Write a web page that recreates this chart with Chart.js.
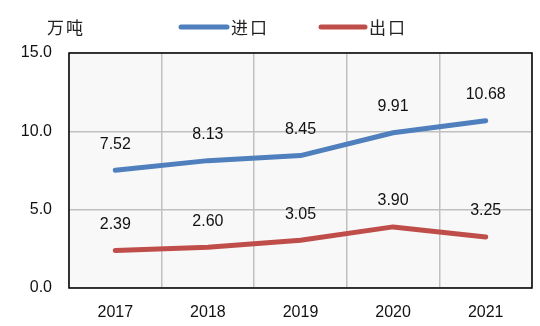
<!DOCTYPE html>
<html lang="zh">
  <head>
    <meta charset="UTF-8" />
    <title>进出口</title>
    <style>
      html, body { margin: 0; padding: 0; background: #fff; }
      .chartBox { width: 540px; height: 326px; position: relative; }
    </style>
  </head>
  <body>
    <div class="chartBox">
      <canvas id="myChart"></canvas>
    </div>
    <script src="https://cdn.jsdelivr.net/npm/chart.js"></script>
    <script>
      const years = ["2017", "2018", "2019", "2020", "2021"];
      const importVals = [7.52, 8.13, 8.45, 9.91, 10.68];
      const exportVals = [2.39, 2.6, 3.05, 3.9, 3.25];
      const yTicks = [0, 5, 10, 15];
      const unitLabel = "万吨";

      const numFont = "16px 'Liberation Sans', 'DejaVu Sans', sans-serif";
      const cjkFont = "17px 'Noto Sans CJK SC', sans-serif";

      // draws CJK text with a small gap between characters
      function spaced(ctx, text, x, y, gap) {
        for (const ch of text) {
          ctx.fillText(ch, x, y);
          x += ctx.measureText(ch).width + gap;
        }
      }

      // plot background, frame, legend, unit and value labels
      const decor = {
        id: "decor",
        beforeDraw(chart) {
          const { ctx, chartArea: a } = chart;
          ctx.save();
          ctx.fillStyle = "#f8f8f8";
          ctx.fillRect(a.left, a.top, a.right - a.left, a.bottom - a.top);
          ctx.restore();
        },
        afterDatasetsDraw(chart) {
          const { ctx, chartArea: a } = chart;
          ctx.save();
          ctx.strokeStyle = "#000";
          ctx.lineWidth = 1.5;
          ctx.strokeRect(a.left, a.top, a.right - a.left, a.bottom - a.top);

          // value labels
          ctx.fillStyle = "#111";
          ctx.font = numFont;
          ctx.textAlign = "center";
          ctx.textBaseline = "middle";
          chart.data.datasets.forEach((ds, i) => {
            chart.getDatasetMeta(i).data.forEach((pt, j) => {
              ctx.fillText(ds.data[j].toFixed(2), pt.x, pt.y - 26);
            });
          });

          // unit
          ctx.font = cjkFont;
          ctx.textAlign = "left";
          ctx.fillStyle = "#222";
          spaced(ctx, unitLabel, 47, 28, 2);

          // legend
          const items = [
            { x: 181, len: 46, ds: chart.data.datasets[0] },
            { x: 321, len: 44, ds: chart.data.datasets[1] },
          ];
          items.forEach((it) => {
            ctx.strokeStyle = it.ds.borderColor;
            ctx.lineWidth = 5;
            ctx.lineCap = "round";
            ctx.beginPath();
            ctx.moveTo(it.x, 27);
            ctx.lineTo(it.x + it.len, 27);
            ctx.stroke();
            ctx.fillStyle = "#222";
            spaced(ctx, it.ds.label, it.x + it.len + 4, 28, 2);
          });
          ctx.restore();
        },
      };

      const ctx = document.getElementById("myChart").getContext("2d");
      const myChart = new Chart(ctx, {
        type: "line",
        data: {
          labels: years,
          datasets: [
            {
              label: "进口",
              data: importVals,
              borderColor: "#4f7fbc",
              borderWidth: 5,
              pointRadius: 0,
              borderCapStyle: "round",
              borderJoinStyle: "round",
              tension: 0,
            },
            {
              label: "出口",
              data: exportVals,
              borderColor: "#bf4e4b",
              borderWidth: 5,
              pointRadius: 0,
              borderCapStyle: "round",
              borderJoinStyle: "round",
              tension: 0,
            },
          ],
        },
        options: {
          responsive: true,
          maintainAspectRatio: false,
          animation: false,
          layout: { padding: { top: 53, right: 8, left: 0, bottom: 0 } },
          plugins: { legend: { display: false }, tooltip: { enabled: false } },
          scales: {
            x: {
              offset: true,
              grid: { offset: true, color: "#c0c0c0", lineWidth: 1.5, drawTicks: false },
              border: { display: false },
              ticks: {
                color: "#111",
                font: { family: "'Liberation Sans', sans-serif", size: 16 },
                padding: 15,
                maxRotation: 0,
              },
              afterFit(scale) { scale.height = 38; },
            },
            y: {
              min: 0,
              max: 15,
              afterBuildTicks(scale) {
                scale.ticks = yTicks.map((v) => ({ value: v }));
              },
              grid: { color: "#c0c0c0", lineWidth: 1.5, drawTicks: false },
              border: { display: false },
              ticks: {
                color: "#111",
                font: { family: "'Liberation Sans', sans-serif", size: 16 },
                padding: 17,
                callback: (v) => Number(v).toFixed(1),
              },
              afterFit(scale) { scale.width = 69; },
            },
          },
        },
        plugins: [decor],
      });
    </script>
  </body>
</html>
